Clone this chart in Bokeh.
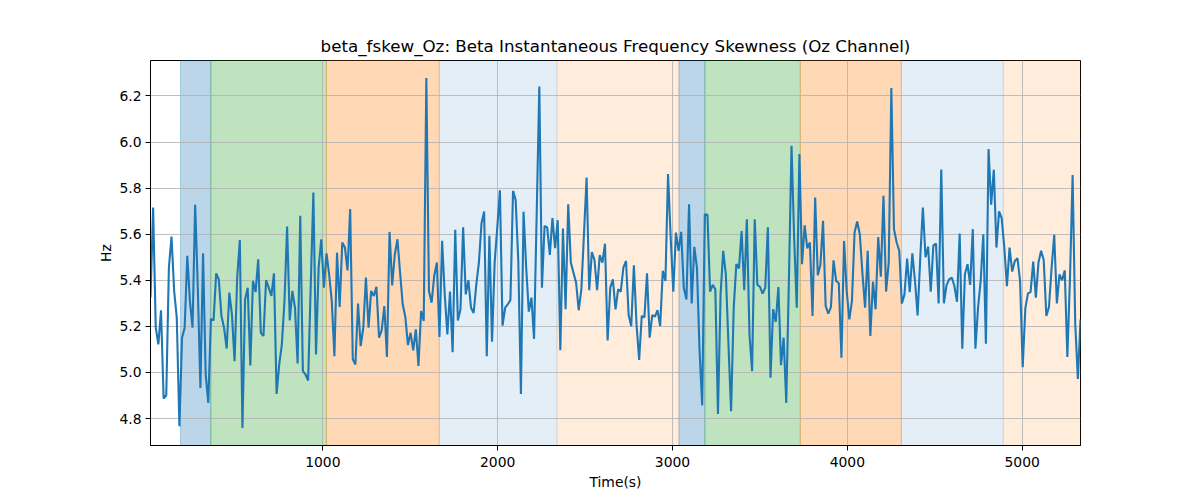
import numpy as np
from bokeh.plotting import figure
from bokeh.models import BoxAnnotation, Range1d, FixedTicker, PrintfTickFormatter
from bokeh.embed import file_html
from bokeh.resources import INLINE

# ---- data ----
t_start = 14.3
t_end = 5333.5

beta_fskew = [
    5.325, 5.716, 5.194, 5.122, 5.270, 4.887, 4.901, 5.455, 5.590, 5.354, 5.238, 4.767, 5.151, 5.194, 5.506, 5.310, 5.194, 5.728, 5.368, 4.933, 5.517, 4.991, 4.868, 5.233, 5.226, 5.430, 5.404, 5.245, 5.194, 5.104, 5.346, 5.252, 5.049, 5.412, 5.575, 4.759,
    5.317, 5.368, 5.030, 5.397, 5.349, 5.491, 5.172, 5.158, 5.401, 5.368, 5.332, 5.430, 4.907, 5.035, 5.122, 5.310, 5.633, 5.226, 5.354, 5.281, 5.039, 5.680, 5.006, 4.991, 4.965, 5.380, 5.781, 5.078, 5.455, 5.578, 5.368, 5.517, 5.426, 5.310, 5.071, 5.520,
    5.284, 5.564, 5.542, 5.443, 5.709, 5.057, 5.035, 5.299, 5.114, 5.194, 5.412, 5.194, 5.354, 5.332, 5.372, 5.151, 5.183, 5.288, 5.067, 5.610, 5.378, 5.513, 5.578, 5.433, 5.296, 5.241, 5.119, 5.172, 5.096, 5.187, 5.028, 5.267, 5.223, 6.278,
    5.354, 5.303, 5.419, 5.477, 5.154, 5.571, 5.339, 5.165, 5.351, 5.088, 5.619, 5.226, 5.274, 5.630, 5.339, 5.400, 5.281, 5.258, 5.380, 5.477, 5.648, 5.699, 5.071, 5.593, 5.133, 5.477, 5.630, 5.791, 5.203, 5.281, 5.296, 5.314, 5.788, 5.748, 5.484, 4.907,
    5.697, 5.455, 5.264, 5.325, 5.146, 5.687, 6.241, 5.368, 5.636, 5.630, 5.510, 5.670, 5.539, 5.661, 5.096, 5.625, 5.274, 5.730, 5.477, 5.433, 5.390, 5.270, 5.361, 5.600, 5.846, 5.357, 5.523, 5.488, 5.357, 5.509, 5.477, 5.559, 5.139, 5.368, 5.404, 5.274,
    5.361, 5.351, 5.455, 5.484, 5.249, 5.201, 5.465, 5.209, 5.054, 5.246, 5.239, 5.430, 5.151, 5.249, 5.242, 5.270, 5.201, 5.441, 5.397, 5.861, 5.586, 5.351, 5.607, 5.528, 5.610, 5.368, 5.317, 5.730, 5.299, 5.545, 5.455, 5.093, 4.857, 5.687, 5.684,
    5.351, 5.380, 5.361, 4.820, 5.339, 5.528, 5.426, 5.122, 4.832, 5.281, 5.470, 5.452, 5.614, 5.357, 5.665, 5.165, 5.006, 5.665, 5.380, 5.372, 5.342, 5.368, 5.630, 4.977, 5.274, 5.219, 5.371, 5.032, 5.151, 4.868, 5.397, 5.984, 5.586, 5.281, 5.948, 5.470,
    5.639, 5.539, 5.564, 5.245, 5.759, 5.422, 5.467, 5.658, 5.288, 5.255, 5.284, 5.487, 5.397, 5.387, 5.064, 5.571, 5.354, 5.230, 5.310, 5.607, 5.655, 5.600, 5.430, 5.281, 5.528, 5.158, 5.394, 5.274, 5.588, 5.416, 5.767, 5.351, 5.477, 6.235, 5.622,
    5.565, 5.528, 5.299, 5.339, 5.494, 5.349, 5.517, 5.397, 5.248, 5.497, 5.716, 5.500, 5.546, 5.351, 5.552, 5.559, 5.299, 5.881, 5.300, 5.378, 5.404, 5.412, 5.375, 5.307, 5.603, 5.103, 5.426, 5.470, 5.380, 5.622, 5.103, 5.281, 5.397, 5.600, 5.125, 5.970,
    5.728, 5.880, 5.542, 5.699, 5.670, 5.542, 5.375, 5.542, 5.438, 5.484, 5.496, 5.397, 5.023, 5.278, 5.343, 5.349, 5.481, 5.325, 5.477, 5.528, 5.488, 5.245, 5.284, 5.455, 5.597, 5.300, 5.426, 5.400, 5.443, 5.067, 5.412, 5.857, 5.209, 4.972, 5.230,
]

band_start = [186, 359, 1021, 1666, 2339, 3037, 3185, 3731, 4309, 4892]
band_end = [359, 1021, 1666, 2339, 3037, 3185, 3731, 4309, 4892, 5400]
band_color = ["#1f77b4", "#2ca02c", "#ff7f0e", "#1f77b4", "#ff7f0e",
              "#1f77b4", "#2ca02c", "#ff7f0e", "#1f77b4", "#ff7f0e"]
band_alpha = [0.3, 0.3, 0.3, 0.12, 0.15, 0.3, 0.3, 0.3, 0.12, 0.15]

x_ticks = [1000, 2000, 3000, 4000, 5000]
y_ticks = [4.8, 5.0, 5.2, 5.4, 5.6, 5.8, 6.0, 6.2]

title_text = "beta_fskew_Oz: Beta Instantaneous Frequency Skewness (Oz Channel)"

# ---- build ----
time_s = np.linspace(t_start, t_end, len(beta_fskew))
lo, hi = min(beta_fskew), max(beta_fskew)
pad = 0.05 * (hi - lo)

FONT = "DejaVu Sans"

p = figure(width=1184, height=492, output_backend="svg", toolbar_location=None,
           x_range=Range1d(t_start, t_end), y_range=Range1d(lo - pad, hi + pad),
           title=title_text,
           min_border_left=150, min_border_right=104, min_border_top=60, min_border_bottom=47)

p.title.align = "center"
p.title.text_font = FONT
p.title.text_font_size = "16.7px"
p.title.text_font_style = "normal"
p.title.text_color = "black"

for s, e, c, a in zip(band_start, band_end, band_color, band_alpha):
    p.add_layout(BoxAnnotation(left=s, right=e, fill_color=c, fill_alpha=a,
                               line_color=c, line_alpha=a, line_width=1, level="image"))

p.line(time_s, beta_fskew, line_color="#1f77b4", line_width=2.1)

p.outline_line_color = "black"
p.outline_line_width = 1
p.background_fill_color = "white"
p.border_fill_color = "white"

for g in (p.xgrid[0], p.ygrid[0]):
    g.grid_line_color = "#b0b0b0"
    g.grid_line_width = 0.8
    g.level = "underlay"

p.xaxis.ticker = FixedTicker(ticks=x_ticks)
p.yaxis.ticker = FixedTicker(ticks=y_ticks)
p.xaxis.formatter = PrintfTickFormatter(format="%d")
p.yaxis.formatter = PrintfTickFormatter(format="%.1f")
p.xaxis.axis_label = "Time(s)"
p.yaxis.axis_label = "Hz"

for ax in (p.xaxis[0], p.yaxis[0]):
    ax.axis_line_color = "black"
    ax.major_tick_line_color = "black"
    ax.major_tick_out = 5
    ax.major_tick_in = 0
    ax.minor_tick_out = 0
    ax.minor_tick_in = 0
    ax.major_label_text_font = FONT
    ax.major_label_text_font_size = "13.9px"
    ax.major_label_text_color = "black"
    ax.axis_label_text_font = FONT
    ax.axis_label_text_font_size = "13.9px"
    ax.axis_label_text_font_style = "normal"
    ax.axis_label_text_color = "black"

p.xaxis[0].major_label_standoff = 6
p.xaxis[0].axis_label_standoff = 4
p.yaxis[0].major_label_standoff = 4
p.yaxis[0].axis_label_standoff = 2

open("out.html", "w").write(file_html(p, INLINE))
